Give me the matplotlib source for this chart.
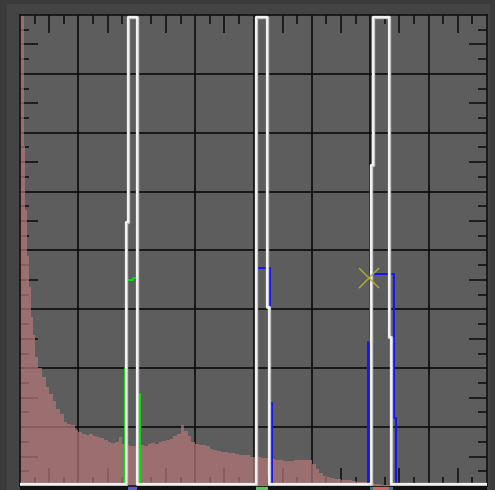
import numpy as np
import matplotlib
matplotlib.use("Agg")
import matplotlib.pyplot as plt
from matplotlib.patches import Rectangle
import matplotlib.transforms as mtransforms

# histogram of the levels: 1-wide bins for 0..8, then 2-wide bins up to 256
hist_values = [256, 256, 185, 150, 125, 108, 92, 82,
               70, 64, 59, 54, 50, 46,
               42, 39, 35, 33.5, 33, 30.5, 29.5, 28.5, 27.5, 28,
               27, 26.5, 26, 25, 24, 23.5, 24, 26.5, 23, 22.5,
               22, 21.5, 22, 22.5, 22, 23, 23.5, 23, 24, 24.5,
               25, 25.5, 27, 28.5, 33, 30, 27, 24, 23, 22.5,
               22.5, 22, 20, 19.5, 19, 18.5, 18.5, 18, 18, 17.5,
               17, 17, 16.8, 16, 15.7, 15.5, 15, 15, 14.6, 14.5,
               14, 14, 13.5, 13.5, 13.8, 14, 14, 14, 14, 14,
               12, 9, 7, 5.5, 4.9, 4.3, 4, 3.8, 3.5, 3.3,
               3.2, 2.8, 2.3, 2.2, 2.2, 2, 1.5, 1.2, 1, 0.8,
               0.6, 0.5, 0.4, 0.4, 0.3, 0.3, 0.3, 0, 0, 0,
               0, 0, 0, 0, 0, 0, 0, 0, 0, 0,
               0, 0, 0, 0, 0, 0, 0, 0]
hist_edges = np.concatenate([np.arange(0, 8, 1), np.arange(8, 258, 2)])

# step curves: breakpoints and the level that starts at each breakpoint
white_x = [0, 58.1, 59.2, 64.1, 129.4, 135.4, 136.5, 192.4, 193.5, 202.3, 203.4, 256]
white_y = [1, 143.5, 255, 1, 255, 97.3, 1, 174.5, 255, 81, 1, 1]

green_x = [0, 57.6, 58.7, 61.8, 64.1, 65.8, 256]
green_y = [0, 64.1, 112, 113, 50, 0, 0]

blue_x = [0, 129.2, 130.1, 136.8, 137.1, 138.2, 190.8, 191.8, 204.9, 206.0, 256]
blue_y = [0, 74.5, 118.5, 97.3, 45.1, 0, 78.3, 115.2, 37, 0, 0]

point_x = [191.3]
point_y = [113]

# colour strips under the plot
strip_x0 = [59.2, 129.4, 193.5]
strip_x1 = [64.1, 135.8, 202.3]
strip_colors = ["#5a5ac8", "#5cc45c", "#c86a6a"]

fig = plt.figure(figsize=(4.95, 4.90), dpi=100, facecolor="#3b3b3b")
fig.patches.append(Rectangle((7 / 495, 0), 483 / 495, 486 / 490, transform=fig.transFigure,
                             facecolor="#444444", edgecolor="none", zorder=-1))
ax = fig.add_axes([20 / 495, 4 / 490, 467 / 495, 471 / 490])
ax.set_facecolor("#5d5d5d")
ax.set_xlim(0, 256)
ax.set_ylim(0, 256)
ax.set_axisbelow(True)

for g in range(32, 256, 32):
    ax.axvline(g, color="#0c0c0c", lw=1.2, zorder=0.6)
    ax.axhline(g, color="#0c0c0c", lw=1.2, zorder=0.6)

ax.set_xticks(np.arange(16, 256, 32))
ax.set_xticks(np.arange(8, 256, 16), minor=True)
ax.set_yticks(np.arange(16, 256, 32))
ax.set_yticks(np.arange(8, 256, 16), minor=True)
ax.tick_params(which="both", direction="in", top=True, right=True,
               labelbottom=False, labelleft=False, color="#0c0c0c", width=1.1)
ax.tick_params(which="major", length=13)
ax.tick_params(which="minor", length=6.5)

ax.stairs(hist_values, hist_edges, fill=True, color=(182 / 255, 120 / 255, 120 / 255),
          alpha=0.7, zorder=1)

ax.step(green_x, green_y, where="post", color="#00e000", lw=1.4, zorder=3)
ax.step(blue_x, blue_y, where="post", color="#1414ff", lw=1.4, zorder=3)
ax.step(white_x, white_y, where="post", color="#c4c4c4", lw=2.4, zorder=4)
ax.step(white_x, white_y, where="post", color="white", lw=1.1, zorder=4)
ax.plot(point_x, point_y, "x", color="#a8a838", ms=15, mew=1.1, zorder=5)

for sp in ax.spines.values():
    sp.set_color("#111111")
    sp.set_linewidth(1.2)

trans = mtransforms.blended_transform_factory(ax.transData, ax.transAxes)
ax.add_patch(Rectangle((0, -4 / 471), 256, 4 / 471, transform=trans, facecolor="#111111",
                       edgecolor="none", clip_on=False))
ax.add_patch(Rectangle((191.8, -4 / 471), 12.6, 4 / 471, transform=trans, facecolor="#2a8080",
                       edgecolor="none", clip_on=False))
for x0, x1, c in zip(strip_x0, strip_x1, strip_colors):
    ax.add_patch(Rectangle((x0, -4 / 471), x1 - x0, 4 / 471, transform=trans, facecolor=c,
                           edgecolor="none", clip_on=False))

fig.savefig("out.png", dpi=100, facecolor=fig.get_facecolor())
